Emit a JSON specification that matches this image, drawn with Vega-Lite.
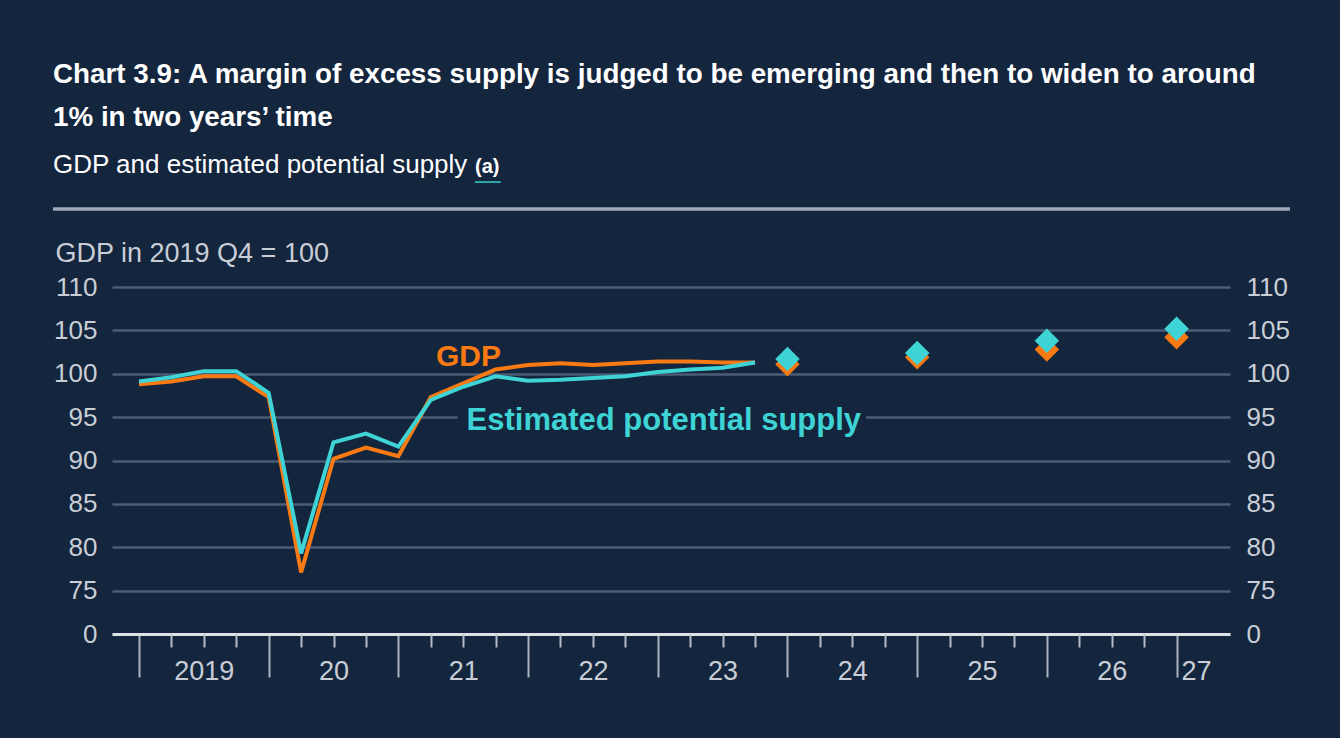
{
  "$schema": "https://vega.github.io/schema/vega-lite/v6.json",
  "width": 1118,
  "height": 347,
  "autosize": {"type": "none"},
  "padding": {"left": 112, "top": 287, "right": 110, "bottom": 104},
  "background": "#14253e",
  "config": {"view": {"stroke": null}, "font": "Liberation Sans"},
  "title": {
    "text": ["Chart 3.9: A margin of excess supply is judged to be emerging and then to widen to around", "1% in two years’ time"],
    "subtitle": "GDP and estimated potential supply",
    "anchor": "start",
    "frame": "group",
    "dx": -59,
    "offset": -21,
    "font": "Liberation Sans",
    "fontSize": 27.8,
    "fontWeight": "bold",
    "color": "#ffffff",
    "lineHeight": 43,
    "subtitleFont": "Liberation Sans",
    "subtitleFontSize": 26,
    "subtitleColor": "#ffffff",
    "subtitlePadding": 20
  },
  "data": {"values": [
    {"t": 2019.0, "series": "GDP", "kind": "hist", "v": 98.8},
    {"t": 2019.25, "series": "GDP", "kind": "hist", "v": 99.1},
    {"t": 2019.5, "series": "GDP", "kind": "hist", "v": 99.7},
    {"t": 2019.75, "series": "GDP", "kind": "hist", "v": 99.7},
    {"t": 2020.0, "series": "GDP", "kind": "hist", "v": 97.3},
    {"t": 2020.25, "series": "GDP", "kind": "hist", "v": 77.1},
    {"t": 2020.5, "series": "GDP", "kind": "hist", "v": 90.2},
    {"t": 2020.75, "series": "GDP", "kind": "hist", "v": 91.5},
    {"t": 2021.0, "series": "GDP", "kind": "hist", "v": 90.5},
    {"t": 2021.25, "series": "GDP", "kind": "hist", "v": 97.3},
    {"t": 2021.5, "series": "GDP", "kind": "hist", "v": 98.9},
    {"t": 2021.75, "series": "GDP", "kind": "hist", "v": 100.5},
    {"t": 2022.0, "series": "GDP", "kind": "hist", "v": 101.0},
    {"t": 2022.25, "series": "GDP", "kind": "hist", "v": 101.2},
    {"t": 2022.5, "series": "GDP", "kind": "hist", "v": 101.0},
    {"t": 2022.75, "series": "GDP", "kind": "hist", "v": 101.2},
    {"t": 2023.0, "series": "GDP", "kind": "hist", "v": 101.4},
    {"t": 2023.25, "series": "GDP", "kind": "hist", "v": 101.4},
    {"t": 2023.5, "series": "GDP", "kind": "hist", "v": 101.3},
    {"t": 2023.75, "series": "GDP", "kind": "hist", "v": 101.3},
    {"t": 2019.0, "series": "Supply", "kind": "hist", "v": 99.1},
    {"t": 2019.25, "series": "Supply", "kind": "hist", "v": 99.6},
    {"t": 2019.5, "series": "Supply", "kind": "hist", "v": 100.3},
    {"t": 2019.75, "series": "Supply", "kind": "hist", "v": 100.3},
    {"t": 2020.0, "series": "Supply", "kind": "hist", "v": 97.8},
    {"t": 2020.25, "series": "Supply", "kind": "hist", "v": 79.3},
    {"t": 2020.5, "series": "Supply", "kind": "hist", "v": 92.1},
    {"t": 2020.75, "series": "Supply", "kind": "hist", "v": 93.1},
    {"t": 2021.0, "series": "Supply", "kind": "hist", "v": 91.6},
    {"t": 2021.25, "series": "Supply", "kind": "hist", "v": 97.0},
    {"t": 2021.5, "series": "Supply", "kind": "hist", "v": 98.5},
    {"t": 2021.75, "series": "Supply", "kind": "hist", "v": 99.7},
    {"t": 2022.0, "series": "Supply", "kind": "hist", "v": 99.2},
    {"t": 2022.25, "series": "Supply", "kind": "hist", "v": 99.3},
    {"t": 2022.5, "series": "Supply", "kind": "hist", "v": 99.5},
    {"t": 2022.75, "series": "Supply", "kind": "hist", "v": 99.7},
    {"t": 2023.0, "series": "Supply", "kind": "hist", "v": 100.2},
    {"t": 2023.25, "series": "Supply", "kind": "hist", "v": 100.5},
    {"t": 2023.5, "series": "Supply", "kind": "hist", "v": 100.7},
    {"t": 2023.75, "series": "Supply", "kind": "hist", "v": 101.3},
    {"t": 2024.0, "series": "GDP", "kind": "proj", "v": 101.1},
    {"t": 2025.0, "series": "GDP", "kind": "proj", "v": 101.9},
    {"t": 2026.0, "series": "GDP", "kind": "proj", "v": 102.8},
    {"t": 2027.0, "series": "GDP", "kind": "proj", "v": 104.2},
    {"t": 2024.0, "series": "Supply", "kind": "proj", "v": 101.7},
    {"t": 2025.0, "series": "Supply", "kind": "proj", "v": 102.4},
    {"t": 2026.0, "series": "Supply", "kind": "proj", "v": 103.8},
    {"t": 2027.0, "series": "Supply", "kind": "proj", "v": 105.2}
  ]},
  "resolve": {"axis": {"x": "independent", "y": "independent"}},
  "layer": [
    {
      "data": {"values": [{}]},
      "mark": {"type": "rule", "color": "#9ea9b7", "strokeWidth": 3.5},
      "encoding": {
        "x": {"datum": 2018.337, "type": "quantitative", "scale": {"domain": [2018.792, 2027.412], "nice": false, "zero": false}, "axis": null},
        "x2": {"datum": 2027.874},
        "y": {"datum": 119.0, "type": "quantitative", "scale": {"domain": [70, 110], "nice": false, "zero": false}, "axis": null}
      }
    },
    {
      "data": {"values": [{"label": "(a)"}]},
      "mark": {"type": "text", "color": "#ffffff", "fontSize": 20, "fontWeight": "bold", "align": "left", "baseline": "alphabetic"},
      "encoding": {
        "x": {"datum": 2021.591, "type": "quantitative", "axis": null},
        "y": {"datum": 123.14, "type": "quantitative", "axis": null},
        "text": {"field": "label"}
      }
    },
    {
      "data": {"values": [{}]},
      "mark": {"type": "rule", "color": "#2fa6a8", "strokeWidth": 2},
      "encoding": {
        "x": {"datum": 2021.591, "type": "quantitative", "axis": null},
        "x2": {"datum": 2021.79},
        "y": {"datum": 122.1, "type": "quantitative", "axis": null}
      }
    },
    {
      "data": {"values": [{}]},
      "mark": {"type": "rect", "color": "#14253e"},
      "encoding": {
        "x": {"datum": 2021.457, "type": "quantitative", "axis": null},
        "x2": {"datum": 2024.605},
        "y": {"datum": 94.0, "type": "quantitative", "axis": null},
        "y2": {"datum": 96.0}
      }
    },
    {
      "transform": [{"filter": "datum.series == 'GDP' && datum.kind == 'hist'"}],
      "mark": {"type": "line", "color": "#f97a12", "strokeWidth": 4},
      "encoding": {
        "x": {
          "field": "t", "type": "quantitative",
          "axis": {
            "orient": "bottom",
            "title": null,
            "grid": false,
            "values": [2019, 2020, 2021, 2022, 2023, 2024, 2025, 2026, 2027],
            "labels": false,
            "domainColor": "#dde1e6",
            "domainWidth": 3,
            "tickColor": "#aab2be",
            "tickWidth": 2,
            "tickSize": 43
          }
        },
        "y": {
          "field": "v", "type": "quantitative",
          "axis": {
            "orient": "left",
            "values": [70, 75, 80, 85, 90, 95, 100, 105, 110],
            "labelExpr": "datum.value == 70 ? '0' : datum.label",
            "title": "GDP in 2019 Q4 = 100",
            "titleAngle": 0,
            "titleAlign": "left",
            "titleBaseline": "alphabetic",
            "titleX": -57,
            "titleY": -26,
            "titleFontSize": 27,
            "titleFontWeight": "normal",
            "titleColor": "#c9ced6",
            "labelFontSize": 26,
            "labelColor": "#c9ced6",
            "labelPadding": 15,
            "ticks": false,
            "domain": false,
            "grid": true,
            "gridColor": "#4b5d76",
            "gridWidth": 2.5
          }
        }
      }
    },
    {
      "transform": [{"filter": "datum.series == 'Supply' && datum.kind == 'hist'"}],
      "mark": {"type": "line", "color": "#3ed3d4", "strokeWidth": 4},
      "encoding": {
        "x": {
          "field": "t", "type": "quantitative",
          "axis": {
            "orient": "bottom",
            "title": null,
            "grid": false,
            "domain": false,
            "values": [2019.25, 2019.5, 2019.75, 2020.25, 2020.5, 2020.75, 2021.25, 2021.5, 2021.75, 2022.25, 2022.5, 2022.75, 2023.25, 2023.5, 2023.75, 2024.25, 2024.5, 2024.75, 2025.25, 2025.5, 2025.75, 2026.25, 2026.5, 2026.75, 2027.15],
            "labelExpr": "datum.value == 2019.5 ? '2019' : datum.value == 2027.15 ? '27' : (datum.value % 1 == 0.5 ? slice(toString(floor(datum.value)), 2) : '')",
            "tickColor": {"condition": {"test": "datum.value == 2027.15", "value": "transparent"}, "value": "#b4bcc7"},
            "tickWidth": 2,
            "tickSize": 13,
            "labelFontSize": 27,
            "labelColor": "#c9ced6",
            "labelPadding": 11,
            "labelAlign": "center",
            "labelBaseline": "top",
            "labelOverlap": false,
            "labelFlush": false,
            "labelBound": false
          }
        },
        "y": {
          "field": "v", "type": "quantitative",
          "axis": {
            "orient": "right",
            "values": [70, 75, 80, 85, 90, 95, 100, 105, 110],
            "labelExpr": "datum.value == 70 ? '0' : datum.label",
            "title": null,
            "labelFontSize": 26,
            "labelColor": "#c9ced6",
            "labelPadding": 16,
            "ticks": false,
            "domain": false,
            "grid": false
          }
        }
      }
    },
    {
      "transform": [{"filter": "datum.series == 'GDP' && datum.kind == 'proj'"}],
      "mark": {"type": "point", "shape": "diamond", "filled": true, "color": "#f97a12", "size": 600, "opacity": 1},
      "encoding": {
        "x": {"field": "t", "type": "quantitative", "axis": null},
        "y": {"field": "v", "type": "quantitative", "axis": null}
      }
    },
    {
      "transform": [{"filter": "datum.series == 'Supply' && datum.kind == 'proj'"}],
      "mark": {"type": "point", "shape": "diamond", "filled": true, "color": "#3ed3d4", "size": 600, "opacity": 1},
      "encoding": {
        "x": {"field": "t", "type": "quantitative", "axis": null},
        "y": {"field": "v", "type": "quantitative", "axis": null}
      }
    },
    {
      "data": {"values": [{"label": "GDP"}]},
      "mark": {"type": "text", "color": "#f97a12", "fontSize": 30, "fontWeight": "bold", "align": "left", "baseline": "alphabetic"},
      "encoding": {
        "x": {"datum": 2021.29, "type": "quantitative", "axis": null},
        "y": {"datum": 100.89, "type": "quantitative", "axis": null},
        "text": {"field": "label"}
      }
    },
    {
      "data": {"values": [{"label": "Estimated potential supply"}]},
      "mark": {"type": "text", "color": "#3ed3d4", "fontSize": 31, "fontWeight": "bold", "align": "left", "baseline": "alphabetic"},
      "encoding": {
        "x": {"datum": 2021.526, "type": "quantitative", "axis": null},
        "y": {"datum": 93.52, "type": "quantitative", "axis": null},
        "text": {"field": "label"}
      }
    }
  ]
}
